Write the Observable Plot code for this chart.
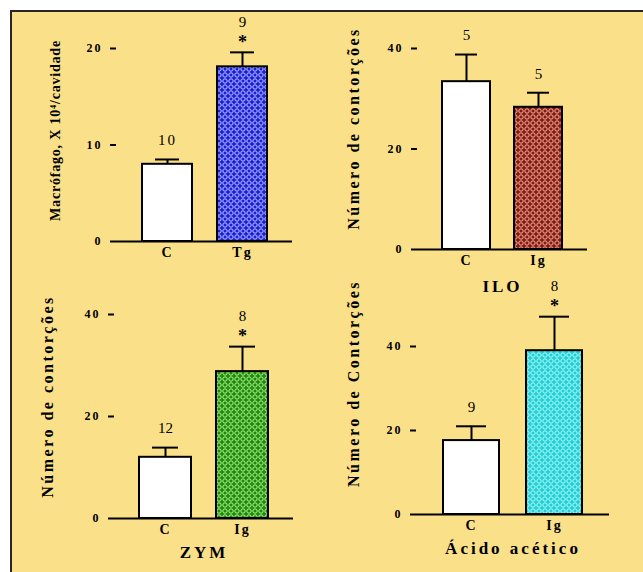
<!DOCTYPE html>
<html><head><meta charset="utf-8">
<script src="https://cdn.jsdelivr.net/npm/d3@7"></script>
<script src="https://cdn.jsdelivr.net/npm/@observablehq/plot@0.6"></script>
<style>
html,body{margin:0;padding:0;background:#fff;}
#wrap{position:relative;width:643px;height:572px;overflow:hidden;}
#panel{position:absolute;left:10px;top:10px;width:720px;height:700px;background:#FBE08A;border-top:2px solid #2b2626;border-left:2px solid #2b2626;}
.p{position:absolute;}
</style></head><body>
<div id="wrap"><div id="panel"></div></div>
<script>
// ---- data ----
const panelTitles = ["", "ILO", "ZYM", "Ácido acético"];
const yLabels = ["Macrófago, X 10⁴/cavidade", "Número de contorções", "Número de contorções", "Número de Contorções"];
const catLabels = [["C", "Tg"], ["C", "Ig"], ["C", "Ig"], ["C", "Ig"]];
const means = [[8.0, 18.1], [33.4, 28.3], [12.0, 28.8], [17.6, 39.0]];
const upper = [[8.5, 19.6], [38.8, 31.2], [13.9, 33.7], [21.0, 47.1]];
const nLabels = [["10", "9"], ["5", "5"], ["12", "8"], ["9", "8"]];
const signif = [[false, true], [false, false], [false, true], [false, true]];
const yDomains = [[0, 20], [0, 40], [0, 40], [0, 50]];
const yTicks = [[0, 10, 20], [0, 20, 40], [0, 20, 40], [0, 20, 40]];

// ---- layout / style ----
const layout = [
  {left: 0, top: 0, width: 320, height: 280, mt: 48, mb: 39, ml: 116, mr: 28, padding: 0.335, lx: 55, ly: 130, lsize: 14, lspace: 0.8, tdy: 40, base: "#1a20d6", light: "#c4c8ff"},
  {left: 320, top: 0, width: 323, height: 310, mt: 48, mb: 61, ml: 97, mr: 56, padding: 0.34, lx: 353, ly: 128, lsize: 16, lspace: 2.5, tdy: 42, base: "#8a1812", light: "#ecb89c"},
  {left: 0, top: 280, width: 320, height: 292, mt: 34, mb: 54, ml: 114, mr: 27, padding: 0.32, lx: 47, ly: 396, lsize: 16, lspace: 2.5, tdy: 39, base: "#178a17", light: "#c0f478"},
  {left: 320, top: 280, width: 323, height: 292, mt: 24, mb: 58, ml: 96, mr: 34, padding: 0.32, lx: 353, ly: 383, lsize: 16, lspace: 2.5, tdy: 39, base: "#22cdd6", light: "#b0fffa"}
];
const FONT = "Liberation Serif";
const wrap = document.getElementById("wrap");

function addPattern(svg, id, base, light) {
  const defs = d3.select(svg).insert("defs", ":first-child");
  const p = defs.append("pattern").attr("id", id).attr("patternUnits", "userSpaceOnUse").attr("width", 6).attr("height", 6);
  p.append("rect").attr("width", 6).attr("height", 6).attr("fill", base);
  p.append("circle").attr("cx", 3).attr("cy", 3).attr("r", 2.2).attr("fill", "none").attr("stroke", light).attr("stroke-width", 1);
}

layout.forEach((L, i) => {
  const rows = catLabels[i].map((c, j) => ({
    cat: c, mean: means[i][j], up: upper[i][j], n: nLabels[i][j], sig: signif[i][j],
    fill: j === 0 ? "white" : `url(#pat${i})`
  }));
  const frameLeft = L.left + L.ml;
  const frameMid = L.top + (L.mt + (L.height - L.mb)) / 2;
  const marks = [
    Plot.ruleX(rows, {x: "cat", y1: "mean", y2: "up", stroke: "black", strokeWidth: 2}),
    Plot.tickY(rows, {x: "cat", y: "up", stroke: "black", strokeWidth: 2, insetLeft: 13, insetRight: 13}),
    Plot.barY(rows, {x: "cat", y: "mean", fill: "fill", stroke: "black", strokeWidth: 2}),
    Plot.ruleY([0], {stroke: "black", strokeWidth: 2}),
    Plot.axisY({ticks: yTicks[i], tickSize: 6, tickPadding: 8, strokeWidth: 2, line: true, label: null, fontSize: 12, fontWeight: "bold", fontFamily: FONT}),
    Plot.axisX({tickSize: 0, tickPadding: 6, label: null, fontSize: 14, fontWeight: "bold", fontFamily: FONT}),
    Plot.text(rows.filter(d => !d.sig), {x: "cat", y: "up", text: "n", dy: -19, fontSize: 15, fontFamily: FONT, fill: "black"}),
    Plot.text(rows.filter(d => d.sig), {x: "cat", y: "up", text: "n", dy: -30, fontSize: 15, fontFamily: FONT, fill: "black"}),
    Plot.text(rows.filter(d => d.sig), {x: "cat", y: "up", text: () => "*", dy: -10, fontSize: 18, fontWeight: "bold", fontFamily: FONT, fill: "black"}),
    Plot.text([yLabels[i]], {frameAnchor: "left", textAnchor: "middle", rotate: -90, dx: L.lx - frameLeft, dy: L.ly - frameMid, fontSize: L.lsize, fontWeight: "bold", fontFamily: FONT, fill: "black"})
  ];
  if (panelTitles[i]) {
    marks.push(Plot.text([panelTitles[i]], {frameAnchor: "bottom", dy: L.tdy, fontSize: 17, fontWeight: "bold", fontFamily: FONT, fill: "black"}));
  }
  const svg = Plot.plot({
    width: L.width, height: L.height,
    marginTop: L.mt, marginBottom: L.mb, marginLeft: L.ml, marginRight: L.mr,
    style: {background: "transparent", overflow: "visible", fontFamily: FONT, color: "black"},
    x: {domain: catLabels[i], padding: L.padding, label: null},
    y: {domain: yDomains[i], label: null},
    color: {type: "identity"},
    marks
  });
  addPattern(svg, `pat${i}`, L.base, L.light);
  d3.select(svg).selectAll("text").each(function() {
    const t = this.textContent;
    if (t === yLabels[i]) this.setAttribute("letter-spacing", L.lspace);
    else if (t === panelTitles[i]) this.setAttribute("letter-spacing", 3);
    else if (/^\d+$/.test(t) && yTicks[i].map(String).includes(t)) this.setAttribute("letter-spacing", 2);
    else if (catLabels[i].includes(t)) this.setAttribute("letter-spacing", 2);
  });
  const div = document.createElement("div");
  div.className = "p";
  div.style.left = L.left + "px";
  div.style.top = L.top + "px";
  div.appendChild(svg);
  wrap.appendChild(div);
});
</script>
</body></html>
